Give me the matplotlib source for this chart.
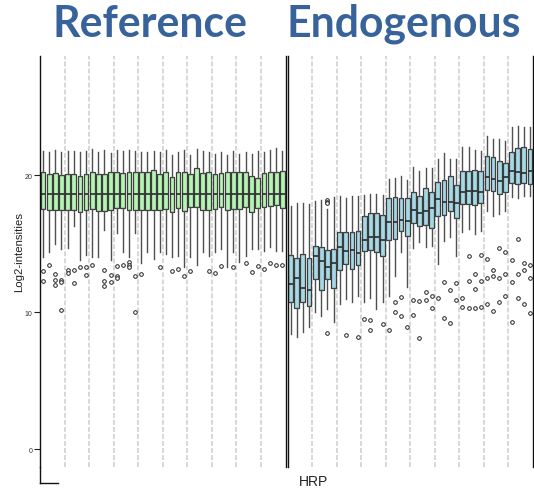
import numpy as np
import matplotlib
matplotlib.use('Agg')
import matplotlib.pyplot as plt
from matplotlib.lines import Line2D

plt.rcParams['font.family'] = 'Liberation Sans'

# Reference spots: box statistics per array (log2 intensity)
ref_med = [18.6, 18.6, 18.6, 18.6, 18.6, 18.6, 18.6, 18.6, 18.6, 18.6,
           18.6, 18.6, 18.6, 18.6, 18.6, 18.6, 18.6, 18.6, 18.6, 18.6,
           18.6, 18.6, 18.6, 18.6, 18.6, 18.6, 18.6, 18.6, 18.6, 18.6,
           18.6, 18.6, 18.6, 18.6, 18.6, 18.6, 18.6, 18.6, 18.6, 18.6]
ref_q3 = [20.20, 20.07, 20.15, 20.03, 20.07, 20.05, 19.95, 20.07, 20.20, 20.10,
          20.05, 20.20, 20.25, 20.17, 20.25, 20.22, 20.20, 20.20, 20.34, 20.10,
          20.25, 19.83, 20.20, 20.20, 20.10, 20.49, 20.15, 20.20, 20.05, 20.15,
          20.25, 20.20, 20.20, 20.20, 19.90, 19.76, 20.15, 20.20, 20.20, 20.27]
ref_q1 = [17.52, 17.47, 17.47, 17.47, 17.47, 17.42, 17.33, 17.42, 17.52, 17.35,
          17.37, 17.47, 17.59, 17.57, 17.42, 17.42, 17.42, 17.47, 17.47, 17.42,
          17.52, 17.28, 17.57, 17.37, 17.67, 17.64, 17.42, 17.47, 17.52, 17.64,
          17.42, 17.52, 17.52, 17.69, 17.28, 17.62, 17.67, 17.72, 17.81, 17.62]
ref_hi = [21.78, 21.70, 21.83, 21.66, 21.73, 21.75, 21.66, 21.75, 21.90, 21.70,
          21.83, 21.61, 21.83, 21.75, 21.80, 21.78, 21.70, 21.70, 21.78, 21.66,
          21.85, 21.46, 21.70, 21.83, 21.46, 21.90, 21.78, 21.70, 21.54, 21.66,
          21.46, 21.78, 21.54, 21.66, 21.54, 21.75, 21.70, 21.85, 21.95, 21.78]
ref_lo = [14.0, 14.4, 15.0, 14.6, 14.7, 16.3, 13.8, 14.2, 14.0, 14.0,
          16.0, 13.8, 15.8, 14.4, 14.0, 15.8, 13.6, 14.4, 13.9, 14.4,
          14.24, 14.0, 14.1, 13.26, 14.0, 13.43, 14.36, 14.1, 14.36, 14.6,
          13.26, 14.36, 13.63, 14.1, 14.6, 14.6, 14.48, 14.72, 14.48, 14.48]
ref_out = [[12.97, 12.24], [13.45], [12.75, 12.35, 12.0], [12.35, 12.2, 10.17], [13.04, 12.85],
           [13.1, 12.12], [13.3], [13.3, 12.74], [13.4], [],
           [13.1, 12.24, 11.9], [12.74, 12.2], [13.35, 12.6, 12.45], [13.4], [13.63, 13.45, 13.3],
           [12.6, 9.97], [12.8], [], [], [13.3],
           [], [12.99], [13.14], [12.6], [12.99],
           [], [], [13.0], [12.85], [13.38],
           [], [13.28], [], [13.55], [12.9],
           [13.38], [13.14], [13.6], [13.47], [13.45]]

# Endogenous spots
endo_med = [12.02, 12.46, 11.73, 11.63, 14.11, 13.75, 13.26, 13.58, 14.77, 14.48,
            14.55, 14.31, 15.28, 15.45, 15.45, 15.28, 16.55, 16.60, 16.74, 16.67,
            17.47, 17.20, 17.40, 17.59, 18.25, 18.06, 18.06, 17.93, 18.79, 18.86,
            18.86, 18.74, 19.83, 19.71, 19.54, 19.83, 20.27, 20.20, 20.12, 20.32]
endo_q3 = [14.16, 13.92, 14.21, 13.97, 14.84, 14.72, 14.55, 14.60, 15.87, 15.87,
           15.87, 15.94, 17.03, 17.20, 17.20, 17.08, 18.32, 18.37, 18.30, 18.30,
           18.74, 18.45, 19.03, 18.74, 19.52, 19.64, 19.91, 19.27, 20.29, 20.32,
           20.39, 20.32, 21.41, 21.29, 21.00, 20.85, 21.71, 21.95, 22.02, 21.90]
endo_q1 = [10.71, 10.27, 10.71, 10.42, 12.41, 11.63, 12.41, 11.73, 13.04, 13.48,
           13.14, 13.43, 14.48, 14.55, 14.36, 14.11, 15.28, 15.33, 15.90, 15.53,
           16.47, 16.26, 16.35, 16.13, 16.99, 17.11, 17.40, 16.84, 17.89, 17.89,
           17.84, 17.96, 18.91, 18.86, 18.62, 18.79, 19.42, 19.35, 19.42, 19.35]
endo_hi = [17.76, 17.96, 17.96, 17.89, 18.13, 18.20, 17.50, 18.37, 18.49, 18.30,
           18.44, 18.49, 18.54, 18.62, 18.62, 18.54, 19.70, 19.75, 19.95, 19.66,
           20.61, 20.32, 20.49, 20.49, 21.17, 21.58, 21.17, 21.17, 22.02, 22.02,
           21.85, 21.78, 22.82, 22.63, 22.63, 22.46, 23.48, 23.56, 23.48, 23.48]
endo_lo = [8.40, 8.15, 8.52, 8.88, 9.98, 9.73, 10.22, 9.25, 10.59, 10.95,
           10.71, 11.19, 10.7, 11.0, 10.22, 10.7, 11.2, 12.6, 14.4, 11.80,
           14.65, 15.09, 14.77, 14.84, 13.51, 15.21, 15.45, 14.11, 15.82, 16.06,
           15.70, 15.94, 17.40, 17.03, 17.16, 17.40, 18.37, 18.30, 18.50, 18.50]
endo_out = [[], [], [], [], [], [], [18.2, 18.05, 17.93, 8.45], [], [], [8.3],
            [], [8.15], [9.5], [9.4, 8.7], [], [9.1], [8.7], [10.7, 10.03], [11.1, 9.7], [8.9],
            [10.9, 9.8], [10.8, 8.1], [11.5, 10.9], [11.2, 10.3], [11.0],
            [12.2, 9.6], [11.6, 9.2], [12.1, 10.9], [11.05, 10.4], [14.1, 12.3, 10.3],
            [12.75, 11.7, 10.3], [14.2, 12.3, 10.4], [13.9, 12.5, 10.6], [13.1, 12.6, 10.1], [14.7, 12.5, 10.7],
            [14.4, 12.8, 11.15], [13.8, 12.2, 9.25], [15.3, 12.75, 11.0], [13.6, 13.1, 10.6], [13.4, 12.5, 9.9]]

n_rep = 4
y_ticks = [0, 10, 20]


def box_stats(med, q1, q3, lo, hi, out):
    return [dict(med=m, q1=a, q3=b, whislo=l, whishi=h, fliers=f)
            for m, a, b, l, h, f in zip(med, q1, q3, lo, hi, out)]


def draw_panel(ax, stats, fill):
    n = len(stats)
    for b in np.arange(n_rep, n, n_rep) + 0.5:
        ax.axvline(b, color='#cdcdcd', lw=1.1, ls=(0, (3.2, 1.4)), zorder=0)
    ax.bxp(stats, positions=np.arange(1, n + 1), widths=0.78, patch_artist=True,
           showcaps=False,
           boxprops=dict(facecolor=fill, edgecolor='#3d3d3d', linewidth=0.9),
           medianprops=dict(color='#2a2a2a', linewidth=1.2),
           whiskerprops=dict(color='#4f4f4f', linewidth=1.0),
           flierprops=dict(marker='o', markersize=2.6, markerfacecolor='white',
                           markeredgecolor='#222222', markeredgewidth=0.7))
    ax.set_xlim(0.5, n + 0.5)
    ax.set_ylim(-1.31, 28.69)
    ax.set_xticks([])
    for s in ['top', 'bottom']:
        ax.spines[s].set_visible(False)
    for s in ['left', 'right']:
        ax.spines[s].set_color('#111111')
        ax.spines[s].set_linewidth(1.0)


W, H = 534, 489
fig = plt.figure(figsize=(W / 100, H / 100), dpi=100)
bottom = 1 - 468 / H
height = (468 - 57) / H
ax_l = fig.add_axes([40 / W, bottom, (285.5 - 40) / W, height])
ax_r = fig.add_axes([287.5 / W, bottom, (533 - 287.5) / W, height])

draw_panel(ax_l, box_stats(ref_med, ref_q1, ref_q3, ref_lo, ref_hi, ref_out), '#b4f5b4')
draw_panel(ax_r, box_stats(endo_med, endo_q1, endo_q3, endo_lo, endo_hi, endo_out), '#a6d8e6')

ax_l.set_yticks(y_ticks)
ax_l.tick_params(axis='y', length=4, width=0.8, labelsize=5, pad=1.5,
                 color='#222222', labelcolor='#333333')
ax_r.set_yticks([])

# left axis line runs a bit further down with a short foot
fig.add_artist(Line2D([40 / W, 40 / W], [1 - 468 / H, 1 - 484 / H], color='#111111', lw=1.0))
fig.add_artist(Line2D([40 / W, 58 / W], [1 - 484 / H, 1 - 484 / H], color='#111111', lw=1.0))

fig.text(19 / W, 1 - 252 / H, 'Log2-intensities', rotation=90, ha='center', va='center',
         fontsize=8.2, color='#222222')
fig.text(313 / W, 1 - 482 / H, 'HRP', ha='center', va='center', fontsize=10, color='#222222')

title_kw = dict(fontsize=30.8, fontweight='bold', family='Lato', color='#38639a',
                ha='left', va='baseline')
fig.text(53 / W, 1 - 37 / H, 'Reference', **title_kw)
fig.text(287 / W, 1 - 37 / H, 'Endogenous', **title_kw)

fig.savefig('out.png', dpi=100)
